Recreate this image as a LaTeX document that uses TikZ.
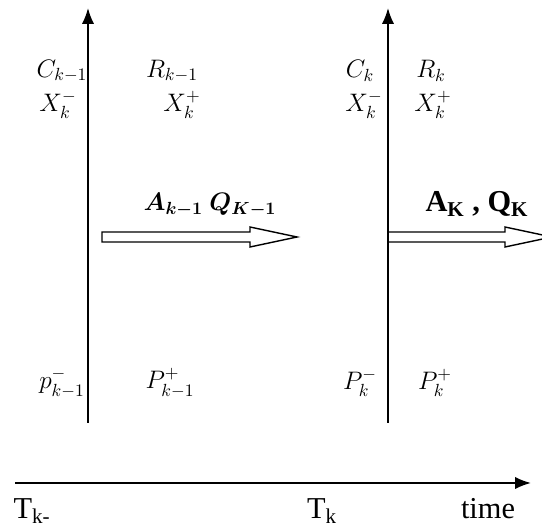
\documentclass[tikz,border=0pt]{standalone}
\usepackage{amsmath}
\usepackage{fontspec}
\setmainfont{Liberation Serif}
\usetikzlibrary{arrows.meta}

\begin{document}
\begin{tikzpicture}[
    x=0.02cm, y=-0.02cm,
    >={Latex[length=9pt,width=7pt]},
    lbl/.style={font=\Large, inner sep=0pt},
    axis/.style={line width=1.1pt},
    blockarrow/.style={draw, line width=0.8pt, fill=white}
]
    \useasboundingbox (0,0) rectangle (542,530);

    % Coordinates
    \coordinate (L0) at (88,423);   % left line bottom
    \coordinate (L1) at (88,8);     % left line top
    \coordinate (R0) at (388,423);  % right line bottom
    \coordinate (R1) at (388,8);    % right line top
    \coordinate (T0) at (15,483);   % time axis start
    \coordinate (T1) at (531,483);  % time axis end

    % Time lines
    \draw[axis,->] (L0) -- (L1);
    \draw[axis,->] (R0) -- (R1);
    \draw[axis,->] (T0) -- (T1);

    % Labels at T_{k-1}
    \node[lbl] (ckm) at (62,71)  {$C_{k-1}$};
    \node[lbl] (rkm) at (172,71) {$R_{k-1}$};
    \node[lbl] (xmL) at (58,105) {$X_k^-$};
    \node[lbl] (xpL) at (182,105) {$X_k^+$};
    \node[lbl] (pmL) at (62,383) {$p_{k-1}^-$};
    \node[lbl] (ppL) at (170,383) {$P_{k-1}^+$};

    % Labels at T_k
    \node[lbl] (ck)  at (360,71)  {$C_k$};
    \node[lbl] (rk)  at (431,71)  {$R_k$};
    \node[lbl] (xmR) at (364,105) {$X_k^-$};
    \node[lbl] (xpR) at (433,105) {$X_k^+$};
    \node[lbl] (pmR) at (360,383) {$P_k^-$};
    \node[lbl] (ppR) at (435,383) {$P_k^+$};

    % Transition arrows
    \draw[blockarrow] (102,232) -- (250,232) -- (250,227) -- (297,237)
        -- (250,247) -- (250,242) -- (102,242) -- cycle;
    \node[lbl] (aq1) at (210,205) {$\boldsymbol{A_{k-1}\ Q_{K-1}}$};

    \draw[blockarrow] (389,232) -- (505,232) -- (505,227) -- (552,237)
        -- (505,247) -- (505,242) -- (389,242);
    \node[font=\LARGE\bfseries] (aq2) at (477,204) {A\textsubscript{K} , Q\textsubscript{K}};

    % Time axis labels
    \node[font=\LARGE] (tkm) at (32,511)  {T\textsubscript{k-}};
    \node[font=\LARGE] (tk)  at (322,511) {T\textsubscript{k}};
    \node[font=\LARGE] (tm)  at (488,509) {time};

\end{tikzpicture}
\end{document}
